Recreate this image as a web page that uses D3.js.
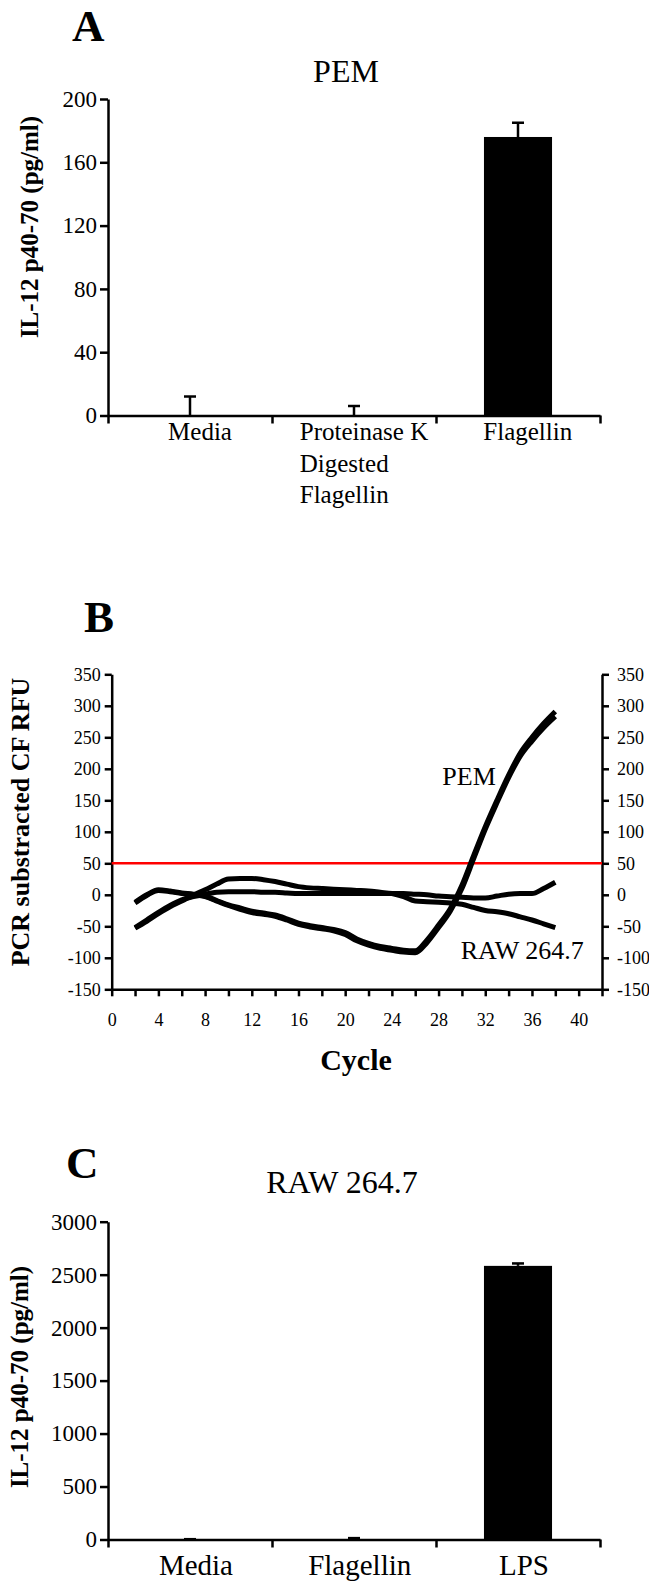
<!DOCTYPE html>
<html>
<head>
<meta charset="utf-8">
<script src="https://cdn.jsdelivr.net/npm/d3@7"></script>
<style>
  body { margin: 0; background: #fff; }
  svg { display: block; }
  svg text { font-family: "Liberation Serif", "Times New Roman", Times, serif; }
</style>
</head>
<body>
<script>
// panel A - PEM
var catsA = ["Media", "Proteinase K Digested Flagellin", "Flagellin"];
var labelsA = [["Media"], ["Proteinase K", "Digested", "Flagellin"], ["Flagellin"]];
var valsA = [0, 0, 176];
var errA = [12, 6, 9];
var yTicksA = [0, 40, 80, 120, 160, 200];

// panel B - real time PCR curves
var cycles = [2, 3, 4, 5, 6, 7, 8, 9, 10, 11, 12, 13, 14, 15, 16, 17, 18, 19, 20,
  21, 22, 23, 24, 25, 26, 27, 28, 29, 30, 31, 32, 33, 34, 35, 36, 37, 38];
var pem1 = [-12, 0, 8, 6, 3, 1, -2, -9, -16, -21, -26, -29, -32, -38, -45, -49, -52, -55, -60,
  -70, -77, -82, -85, -88, -89, -72, -48, -22, 15, 62, 108, 150, 190, 225, 250, 272, 291];
var pem2 = [-13, -1, 7, 5, 2, 0, -3, -10, -17, -23, -28, -31, -34, -40, -47, -51, -54, -57, -63,
  -73, -80, -85, -88, -91, -92, -76, -52, -26, 10, 57, 104, 146, 186, 220, 244, 265, 283];
var raw1 = [-53, -42, -30, -19, -10, 0, 8, 17, 25, 26, 26, 24, 21, 17, 13, 11, 10, 9, 8,
  7, 6, 4, 2, -3, -10, -11, -12, -13, -15, -20, -25, -27, -30, -35, -40, -46, -52];
var raw2 = [-52, -40, -28, -17, -8, -3, 1, 4, 5, 5, 5, 4, 4, 3, 2, 2, 2, 2, 2,
  2, 2, 2, 2, 2, 1, 0, -2, -3, -4, -5, -5, -2, 1, 2, 2, 10, 20];
var thresholdB = 50;
var xTicksB = [0, 2, 4, 6, 8, 10, 12, 14, 16, 18, 20, 22, 24, 26, 28, 30, 32, 34, 36, 38, 40, 42];
var xLabelsB = [0, 4, 8, 12, 16, 20, 24, 28, 32, 36, 40];
var yTicksB = [-150, -100, -50, 0, 50, 100, 150, 200, 250, 300, 350];

// panel C - RAW 264.7
var catsC = ["Media", "Flagellin", "LPS"];
var valsC = [0, 3, 2583];
var errC = [3, 10, 23];
var yTicksC = [0, 500, 1000, 1500, 2000, 2500, 3000];

var W = 649, H = 1581;
var FONT = "'Liberation Serif', 'Times New Roman', Times, serif";
var plain = function(d) { return String(d); };

var svg = d3
  .select("body")
  .append("svg")
  .attr("width", W)
  .attr("height", H)
  .style("font-family", FONT);

function styleAxis(g, size) {
  g.attr("font-family", null).attr("font-size", null);
  g.selectAll("path, line").attr("stroke", "#000").attr("stroke-width", 2.5);
  g.selectAll("text")
    .attr("fill", "#000")
    .style("font-family", FONT)
    .style("font-size", size + "px");
}

function panelLetter(txt, x, y) {
  svg
    .append("text")
    .attr("x", x)
    .attr("y", y)
    .attr("font-size", 45)
    .attr("font-weight", "bold")
    .text(txt);
}

function yTitle(txt, x, y, size) {
  svg
    .append("text")
    .attr("transform", "translate(" + x + "," + y + ") rotate(-90)")
    .attr("text-anchor", "middle")
    .attr("font-size", size)
    .attr("font-weight", "bold")
    .text(txt);
}

/**
 * draws one bar panel (A and C)
 */
function barPanel(o) {
  var x = d3
    .scaleBand()
    .domain(o.cats)
    .range([o.left, o.right])
    .paddingInner(0.585)
    .paddingOuter(0.2925);
  var y = d3.scaleLinear().domain(o.domain).range([o.bottom, o.top]);
  // boundaries between categories
  var xb = d3.scaleLinear().domain([0, o.cats.length]).range([o.left, o.right]);

  var gy = svg
    .append("g")
    .attr("transform", "translate(" + o.left + ",0)")
    .call(
      d3.axisLeft(y)
        .tickValues(o.ticks)
        .tickFormat(plain)
        .tickSize(8)
        .tickPadding(3)
        .tickSizeOuter(0)
    );
  styleAxis(gy, o.tickFont);

  // bars
  svg
    .append("g")
    .selectAll("rect")
    .data(o.vals)
    .enter()
    .append("rect")
    .attr("x", function(d, i) { return x(o.cats[i]); })
    .attr("width", x.bandwidth())
    .attr("y", function(d) { return y(d); })
    .attr("height", function(d) { return y(0) - y(d); })
    .attr("fill", "#000");

  // error bars (upper only)
  var eb = svg.append("g").attr("stroke", "#000").attr("stroke-width", 2.5);
  o.vals.forEach(function(v, i) {
    var cx = x(o.cats[i]) + x.bandwidth() / 2;
    eb.append("line")
      .attr("x1", cx).attr("x2", cx)
      .attr("y1", y(v)).attr("y2", y(v + o.errs[i]));
    eb.append("line")
      .attr("x1", cx - 6).attr("x2", cx + 6)
      .attr("y1", y(v + o.errs[i])).attr("y2", y(v + o.errs[i]));
  });

  var gx = svg
    .append("g")
    .attr("transform", "translate(0," + o.bottom + ")")
    .call(
      d3.axisBottom(xb)
        .tickValues(d3.range(0, o.cats.length + 1))
        .tickFormat("")
        .tickSize(8)
        .tickSizeOuter(0)
    );
  styleAxis(gx, o.labelFont);

  // category labels, multi line blocks left aligned and centred on band
  o.labels.forEach(function(lines, i) {
    var t = svg
      .append("text")
      .attr("font-size", o.labelFont)
      .attr("y", o.labelY);
    lines.forEach(function(s, k) {
      t.append("tspan")
        .attr("x", 0)
        .attr("dy", k == 0 ? 0 : o.labelFont * 1.26)
        .text(s);
    });
    var bw = t.node().getBBox().width;
    var cx = x(o.cats[i]) + x.bandwidth() / 2 + o.labelShift;
    t.selectAll("tspan").attr("x", cx - bw / 2);
  });

  svg
    .append("text")
    .attr("x", o.titleX)
    .attr("y", o.titleY)
    .attr("text-anchor", "middle")
    .attr("font-size", 32)
    .text(o.title);
}

// ---------------- A ----------------
panelLetter("A", 72, 41);
barPanel({
  cats: catsA, labels: labelsA, vals: valsA, errs: errA, ticks: yTicksA,
  domain: [0, 200], left: 108, right: 600, top: 99, bottom: 415.5,
  tickFont: 23, labelFont: 25, labelY: 440, labelShift: 10,
  title: "PEM", titleX: 346, titleY: 82
});
yTitle("IL-12 p40-70 (pg/ml)", 38, 227, 25);

// ---------------- B ----------------
panelLetter("B", 84, 632);
var xB = d3.scaleLinear().domain([0, 42]).range([111.7, 602]);
var yB = d3.scaleLinear().domain([-150, 350]).range([989.3, 674.3]);

var gl = svg
  .append("g")
  .attr("transform", "translate(" + xB(0) + ",0)")
  .call(
    d3.axisLeft(yB)
      .tickValues(yTicksB)
      .tickFormat(plain)
      .tickSize(7)
      .tickPadding(4)
      .tickSizeOuter(0)
  );
styleAxis(gl, 18);

var gr = svg
  .append("g")
  .attr("transform", "translate(" + xB(42) + ",0)")
  .call(
    d3.axisRight(yB)
      .tickValues(yTicksB)
      .tickFormat(plain)
      .tickSize(7)
      .tickPadding(8)
      .tickSizeOuter(0)
  );
styleAxis(gr, 18);

var gxb = svg
  .append("g")
  .attr("transform", "translate(0," + yB(-150) + ")")
  .call(
    d3.axisBottom(xB)
      .tickValues(xTicksB)
      .tickSize(7)
      .tickPadding(17)
      .tickSizeOuter(0)
      .tickFormat(function(d) { return xLabelsB.indexOf(d) >= 0 ? String(d) : ""; })
  );
styleAxis(gxb, 18);

// threshold
svg
  .append("line")
  .attr("x1", xB(0))
  .attr("x2", xB(42))
  .attr("y1", yB(thresholdB))
  .attr("y2", yB(thresholdB))
  .attr("stroke", "#ff0000")
  .attr("stroke-width", 2.5);

var line = d3
  .line()
  .x(function(d, i) { return xB(cycles[i]); })
  .y(function(d) { return yB(d); })
  .curve(d3.curveMonotoneX);

svg
  .append("g")
  .selectAll("path")
  .data([raw2, raw1, pem2, pem1])
  .enter()
  .append("path")
  .attr("d", line)
  .attr("fill", "none")
  .attr("stroke", "#000")
  .attr("stroke-width", 5)
  .attr("stroke-linejoin", "round");

svg
  .append("text")
  .attr("x", xB(32.9))
  .attr("y", yB(175))
  .attr("text-anchor", "end")
  .attr("font-size", 26)
  .text("PEM");
svg
  .append("text")
  .attr("x", xB(29.9))
  .attr("y", yB(-102))
  .attr("font-size", 26)
  .text("RAW 264.7");

svg
  .append("text")
  .attr("x", 356)
  .attr("y", 1070)
  .attr("text-anchor", "middle")
  .attr("font-size", 30)
  .attr("font-weight", "bold")
  .text("Cycle");
yTitle("PCR substracted CF RFU", 29, 822, 26);

// ---------------- C ----------------
panelLetter("C", 66, 1178);
barPanel({
  cats: catsC, labels: catsC.map(function(c) { return [c]; }), vals: valsC, errs: errC,
  ticks: yTicksC, domain: [0, 3000], left: 108, right: 600, top: 1221.7, bottom: 1539.5,
  tickFont: 23, labelFont: 29, labelY: 1575, labelShift: 6,
  title: "RAW 264.7", titleX: 342, titleY: 1193
});
yTitle("IL-12 p40-70 (pg/ml)", 28, 1377, 25);
</script>
</body>
</html>
